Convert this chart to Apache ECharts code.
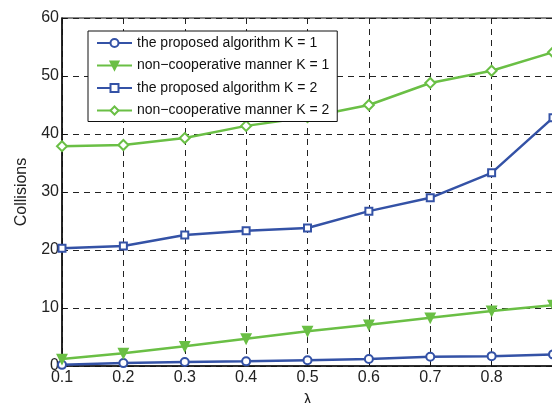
<!DOCTYPE html>
<html>
<head>
<meta charset="utf-8">
<script src="https://cdn.jsdelivr.net/npm/echarts@6/dist/echarts.min.js"></script>
<style>
  html, body { margin: 0; padding: 0; background: #fff; }
  #chart { width: 552px; height: 403px; }
</style>
</head>
<body>
<div id="chart"></div>
<script>
const lambdas = ["0.1", "0.2", "0.3", "0.4", "0.5", "0.6", "0.7", "0.8", "0.9"];
const proposedK1 = [0.2, 0.5, 0.7, 0.8, 1.0, 1.2, 1.6, 1.7, 2.0];
const nonCoopK1 = [1.2, 2.2, 3.4, 4.7, 6.0, 7.1, 8.3, 9.5, 10.5];
const proposedK2 = [20.3, 20.7, 22.6, 23.3, 23.8, 26.7, 29.0, 33.3, 42.8];
const nonCoopK2 = [37.9, 38.1, 39.3, 41.4, 42.9, 45.0, 48.8, 50.9, 54.1];
const seriesNames = [
  "the proposed algorithm K = 1",
  "non\u2212cooperative manner K = 1",
  "the proposed algorithm K = 2",
  "non\u2212cooperative manner K = 2"
];

const BLUE = "#3452a6", GREEN = "#6abf45";
const FONT = "Liberation Sans, Arial, sans-serif";

function line(name, data, color, symbol, extra) {
  return Object.assign({
    name, type: "line", data, symbol, symbolSize: 8,
    lineStyle: { color, width: 2.5 },
    itemStyle: { color, borderColor: color, borderWidth: 1.8 },
    emphasis: { disabled: true }
  }, extra || {});
}

const chart = echarts.init(document.getElementById("chart"), null, { renderer: "canvas" });
chart.setOption({
  animation: false,
  textStyle: { fontFamily: FONT },
  grid: {
    left: 62, right: -1, top: 18, bottom: 37, outerBoundsMode: "none", containLabel: false,
    show: true, borderColor: "#111", borderWidth: 1.2
  },
  legend: {
    orient: "vertical", left: 88, top: 31,
    data: seriesNames,
    itemWidth: 35, itemHeight: 10, itemGap: 8.5,
    padding: [5, 8, 4, 8],
    backgroundColor: "#fff", borderColor: "#111", borderWidth: 1,
    textStyle: { fontSize: 14, color: "#111", fontFamily: FONT }
  },
  xAxis: {
    type: "category", data: lambdas, boundaryGap: false,
    name: "\u03bb", nameLocation: "middle", nameGap: 27,
    nameTextStyle: { fontSize: 16, color: "#222" },
    axisLine: { lineStyle: { color: "#111", width: 1.5 } },
    axisTick: { inside: true, length: 5, lineStyle: { color: "#111" } },
    axisLabel: { fontSize: 16, color: "#222", margin: 4, interval: (i) => i < 8 },
    splitLine: { show: true, lineStyle: { color: "#222", type: [6, 5], width: 1 } }
  },
  yAxis: {
    type: "value", min: 0, max: 60, interval: 10,
    name: "Collisions", nameLocation: "middle", nameGap: 32,
    nameTextStyle: { fontSize: 16, color: "#222" },
    axisLine: { show: true, lineStyle: { color: "#111", width: 1.5 } },
    axisTick: { show: true, inside: true, length: 5, lineStyle: { color: "#111" } },
    axisLabel: { fontSize: 16, color: "#222", margin: 3 },
    splitLine: { show: true, lineStyle: { color: "#222", type: [6, 5], width: 1 } }
  },
  series: [
    line(seriesNames[0], proposedK1, BLUE, "emptyCircle"),
    line(seriesNames[1], nonCoopK1, GREEN, "triangle", { symbolRotate: 180, symbolSize: 9 }),
    line(seriesNames[2], proposedK2, BLUE, "emptyRect", { symbolSize: 7 }),
    line(seriesNames[3], nonCoopK2, GREEN, "emptyDiamond", { symbolSize: 10 })
  ]
});
</script>
</body>
</html>
